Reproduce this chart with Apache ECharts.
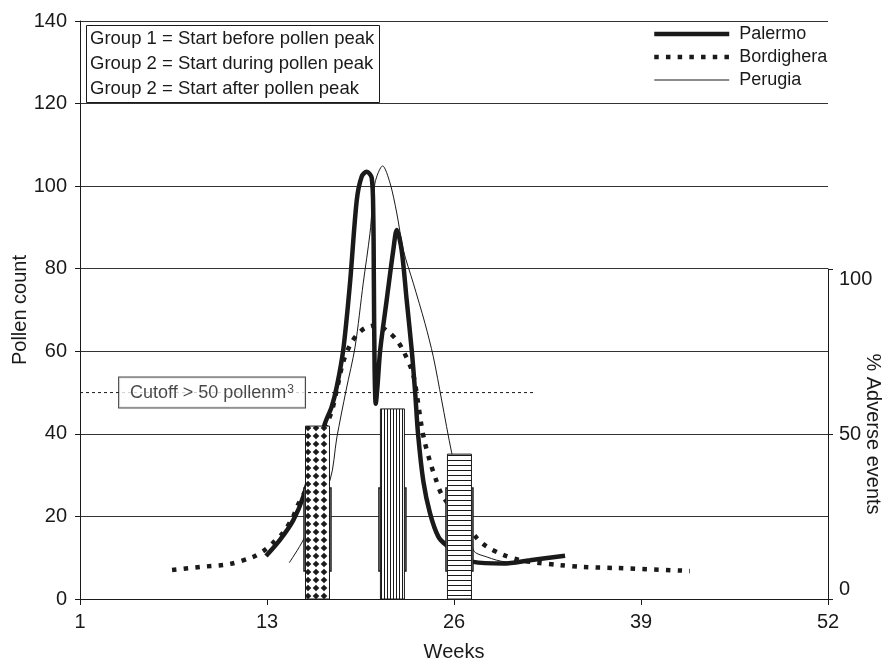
<!DOCTYPE html>
<html>
<head>
<meta charset="utf-8">
<script src="https://cdn.jsdelivr.net/npm/echarts@6/dist/echarts.min.js"></script>
<style>
html,body{margin:0;padding:0;background:#fff;}
#chart{width:893px;height:667px;}
</style>
</head>
<body>
<div id="chart"></div>
<script>
// ---------- data ----------
const xTickLabels = ['1', '13', '26', '39', '52'];
const groupLines = [
  'Group 1 = Start before pollen peak',
  'Group 2 = Start during pollen peak',
  'Group 2 = Start after pollen peak'
];
const seriesNames = ['Palermo', 'Bordighera', 'Perugia'];

const palermoWeeks = [12.93, 13.9, 14.83, 15.52, 17.03, 17.5, 17.85, 18.3, 18.77, 19.24, 19.58, 19.93, 20.28, 20.39, 20.43, 20.48, 20.56, 20.68, 20.87, 21.32, 21.78, 22.02, 22.36, 22.71, 23.06, 23.3, 23.5, 23.87, 24.33, 24.91, 25.49, 27.34, 29.43, 31.28, 33.72];
const palermoPollen = [10.4, 14.3, 19.1, 24.8, 42.5, 46.6, 51.4, 60.3, 76.5, 96.6, 102.3, 103.5, 102.0, 92.6, 76.5, 56, 47.3, 51.5, 60.3, 72.4, 84.5, 89.4, 84.5, 72.4, 60.3, 50, 40, 28.5, 20.8, 15.1, 13, 9.0, 8.6, 9.4, 10.5];

const bordigheraWeeks = [6.4, 8.34, 10.43, 12.03, 12.86, 13.42, 14.11, 14.81, 15.15, 15.64, 16.11, 16.45, 16.8, 17.17, 17.5, 17.85, 18.28, 18.77, 19.24, 19.81, 20.63, 21.43, 22.02, 22.45, 23.06, 23.29, 23.75, 23.98, 24.33, 24.68, 25.23, 27.58, 28.27, 29.41, 30.59, 31.75, 33.37, 34.97, 37.31, 42.4];
const bordigheraPollen = [7.0, 7.75, 8.5, 10.2, 11.9, 13.6, 16.0, 19.9, 22.8, 26.0, 29.6, 34.9, 39.7, 42.6, 45.4, 50.6, 57.2, 61.5, 63.9, 65.6, 66.3, 64.7, 62.7, 60.3, 55.5, 52.3, 41.7, 37.8, 33.3, 29.6, 24.8, 14.8, 12.7, 10.7, 9.4, 8.8, 8.2, 7.75, 7.5, 6.8];

const perugiaWeeks = [14.55, 15.52, 17.38, 17.85, 18.5, 19.12, 19.69, 20.16, 20.51, 21.04, 21.55, 22.02, 22.48, 23.17, 23.98, 24.56, 25.14, 25.84, 27.34, 28.27, 29.66, 31.28];
const perugiaPollen = [8.8, 14.3, 28.8, 39.0, 50.6, 61.0, 76.5, 88.6, 100.8, 104.9, 100.8, 93.5, 84.5, 76.5, 66.8, 58.7, 48.2, 35.4, 11.9, 10.2, 9.0, 9.0];

const cutoffWeeks = [0, 31.6];
const cutoffLevel = 50;

// % adverse events per group
const groupWeeks = [16.51, 21.72, 26.38];
const adversePct = [52.4, 57.6, 43.9];
const bandLow = [8.5, 8.5, 8.5];
const bandHigh = [33.6, 33.6, 33.6];

// ---------- helpers ----------
const INK = '#1a1a1a';
const FONT = '"Liberation Sans", Arial, Helvetica, sans-serif';
function zip(a, b) { return a.map((v, i) => [v, b[i]]); }

function makePattern(kind) {
  const c = document.createElement('canvas');
  let w = 8, h = 8;
  if (kind === 'v') { w = 3; h = 4; }
  if (kind === 'h') { w = 4; h = 5; }
  c.width = w; c.height = h;
  const ctx = c.getContext('2d');
  ctx.fillStyle = '#fff';
  ctx.fillRect(0, 0, w, h);
  ctx.fillStyle = INK;
  if (kind === 'd') {
    ctx.beginPath();
    ctx.moveTo(4, 0.7); ctx.lineTo(7.3, 4); ctx.lineTo(4, 7.3); ctx.lineTo(0.7, 4);
    ctx.closePath(); ctx.fill();
  } else if (kind === 'v') {
    ctx.fillRect(0, 0, 1, h);
  } else {
    ctx.fillRect(0, 0, w, 1);
  }
  return { image: c, repeat: 'repeat' };
}
const patterns = [makePattern('d'), makePattern('v'), makePattern('h')];

// ---------- chart ----------
const chart = echarts.init(document.getElementById('chart'), null, { renderer: 'canvas' });
const axisFont = { fontSize: 20, color: INK, fontFamily: FONT };

const legendLine = {
  Palermo: { width: 4.5, type: 'solid' },
  Bordighera: { width: 4.5, type: [4.5, 7.2] },
  Perugia: { width: 1, type: 'solid' }
};

const option = {
  animation: false,
  backgroundColor: '#fff',
  color: [INK],
  textStyle: { fontFamily: FONT, color: INK },
  title: {
    text: groupLines.join('\n'),
    left: 86, top: 25,
    borderColor: INK, borderWidth: 1,
    backgroundColor: '#fff',
    padding: [1, 5, 2, 4],
    textStyle: { fontSize: 18.5, fontWeight: 'normal', lineHeight: 25, color: INK, fontFamily: FONT }
  },
  legend: {
    data: seriesNames.map(n => ({
      name: n,
      lineStyle: { color: INK, width: legendLine[n].width, type: legendLine[n].type, cap: 'butt' },
      itemStyle: { color: 'rgba(0,0,0,0)', borderWidth: 0, opacity: 0 }
    })),
    orient: 'vertical',
    left: 652, top: 25,
    itemWidth: 75, itemHeight: 14, itemGap: 5,
    padding: 0,
    selectedMode: false,
    itemStyle: { color: 'rgba(0,0,0,0)', borderWidth: 0, opacity: 0 },
    textStyle: { fontSize: 18, color: INK, fontFamily: FONT, padding: [0, 0, 0, 5] }
  },
  grid: [
    { left: 80, right: 65, top: 21, bottom: 68, containLabel: false, outerBoundsMode: 'none' },
    { left: 80, right: 65, top: 269, bottom: 68, containLabel: false, outerBoundsMode: 'none' }
  ],
  xAxis: [
    {
      type: 'value', gridIndex: 0, min: 0, max: 52, interval: 13,
      axisLine: { show: true, onZero: false, lineStyle: { color: INK, width: 1 } },
      axisTick: { show: true, length: 6, lineStyle: { color: INK } },
      axisLabel: Object.assign({ margin: 13, formatter: v => xTickLabels[Math.round(v / 13)] }, axisFont),
      splitLine: { show: false },
      name: 'Weeks', nameLocation: 'middle', nameGap: 43, nameMoveOverlap: false,
      nameTextStyle: axisFont
    },
    { type: 'value', gridIndex: 1, min: 0, max: 52, show: false, axisLine: { onZero: false } }
  ],
  yAxis: [
    {
      type: 'value', gridIndex: 0, min: 0, max: 140, interval: 20,
      axisLine: { show: true, onZero: false, lineStyle: { color: INK, width: 1 } },
      axisTick: { show: true, length: 5, lineStyle: { color: INK } },
      axisLabel: Object.assign({ margin: 13 }, axisFont),
      splitLine: { show: true, lineStyle: { color: '#333', width: 1 } },
      name: 'Pollen count', nameLocation: 'middle', nameGap: 50, nameRotate: 90, nameMoveOverlap: false,
      nameTextStyle: axisFont
    },
    {
      type: 'value', gridIndex: 1, min: 0, max: 100, interval: 50, position: 'right',
      axisLine: { show: true, onZero: false, lineStyle: { color: INK, width: 1 } },
      axisTick: { show: true, length: 5, lineStyle: { color: INK } },
      axisLabel: Object.assign({ margin: 11, verticalAlignMinLabel: 'bottom', verticalAlignMaxLabel: 'top' }, axisFont),
      splitLine: { show: false },
      name: '% Adverse events', nameLocation: 'middle', nameGap: 35, nameRotate: -90, nameMoveOverlap: false,
      nameTextStyle: axisFont
    }
  ],
  series: [
    {
      name: 'cutoff', type: 'line', xAxisIndex: 0, yAxisIndex: 0,
      data: cutoffWeeks.map(w => [w, cutoffLevel]),
      symbol: 'none', silent: true, z: 1,
      lineStyle: { color: INK, width: 1, type: [3, 3] }
    },
    {
      name: 'cutoffLabel', type: 'scatter', xAxisIndex: 0, yAxisIndex: 0,
      data: [[9.18, cutoffLevel]],
      symbol: 'rect', symbolSize: 1, itemStyle: { color: 'rgba(0,0,0,0)' }, z: 6, silent: true,
      label: {
        show: true, position: 'inside',
        formatter: 'Cutoff > ' + cutoffLevel + ' pollenm{sup|3}',
        fontSize: 18, color: INK, fontFamily: FONT,
        backgroundColor: '#fff', borderColor: INK, borderWidth: 1,
        padding: [6, 11, 6, 11],
        rich: { sup: { fontSize: 12, verticalAlign: 'top', color: INK, fontFamily: FONT, padding: [0, 0, 6, 1] } }
      }
    },
    {
      name: 'Palermo', type: 'line', xAxisIndex: 0, yAxisIndex: 0,
      data: zip(palermoWeeks, palermoPollen),
      smooth: 0.3, symbol: 'none', z: 2,
      itemStyle: { color: INK },
      lineStyle: { color: INK, width: 4.5 }
    },
    {
      name: 'Bordighera', type: 'line', xAxisIndex: 0, yAxisIndex: 0,
      data: zip(bordigheraWeeks, bordigheraPollen),
      smooth: 0.3, symbol: 'none', z: 2,
      itemStyle: { color: INK },
      lineStyle: { color: INK, width: 4.5, type: [4.5, 7.2], cap: 'butt' }
    },
    {
      name: 'Perugia', type: 'line', xAxisIndex: 0, yAxisIndex: 0,
      data: zip(perugiaWeeks, perugiaPollen),
      smooth: 0.3, symbol: 'none', z: 2,
      itemStyle: { color: INK },
      lineStyle: { color: INK, width: 1 }
    },
    {
      name: 'bands', type: 'custom', xAxisIndex: 1, yAxisIndex: 1, z: 3, silent: true,
      data: groupWeeks.map((w, i) => [w, bandLow[i], bandHigh[i]]),
      renderItem: function (params, api) {
        const top = api.coord([api.value(0), api.value(2)]);
        const bot = api.coord([api.value(0), api.value(1)]);
        const bw = 27;
        return {
          type: 'rect',
          shape: { x: top[0] - bw / 2, y: top[1], width: bw, height: bot[1] - top[1] },
          style: { fill: '#fff', stroke: INK, lineWidth: 1.5 }
        };
      }
    },
    {
      name: 'groups', type: 'custom', xAxisIndex: 1, yAxisIndex: 1, z: 4, silent: true,
      data: groupWeeks.map((w, i) => [w, adversePct[i], i]),
      renderItem: function (params, api) {
        const top = api.coord([api.value(0), api.value(1)]);
        const bot = api.coord([api.value(0), 0]);
        const bw = 24;
        return {
          type: 'rect',
          shape: { x: top[0] - bw / 2, y: top[1], width: bw, height: bot[1] - top[1] },
          style: { fill: patterns[api.value(2)], stroke: INK, lineWidth: 1 }
        };
      }
    }
  ]
};
chart.setOption(option);
</script>
</body>
</html>
